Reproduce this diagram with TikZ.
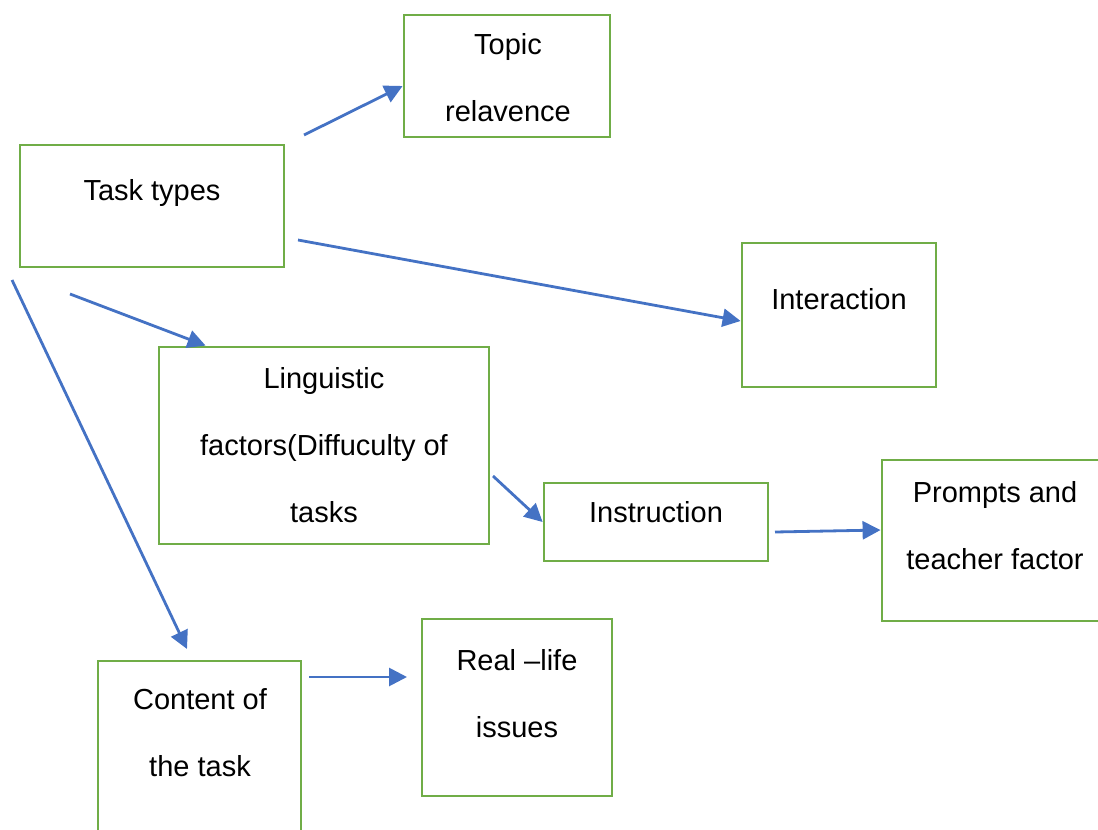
\documentclass[tikz,border=0pt]{standalone}
\usepackage{fontspec}
\setmainfont{Liberation Sans}
\usetikzlibrary{arrows.meta,positioning}
\definecolor{boxgreen}{HTML}{70AD47}
\definecolor{linkblue}{HTML}{4472C4}
\tikzset{font=\fontsize{29}{67}\selectfont}
\tikzset{box/.style={draw=boxgreen,line width=2.8pt,inner sep=0pt}}
\tikzset{lbl/.style={align=center,inner sep=0pt}}
\tikzset{link/.style={draw=linkblue,line width=2.8pt,-{Triangle[length=18pt,width=18pt]}}}

\begin{document}
\begin{tikzpicture}[x=1pt,y=-1pt]
\useasboundingbox (0,0) rectangle (1098,830);
\node[box,minimum width=206,minimum height=122] (topic) at (507,76) {};
\node[box,minimum width=264,minimum height=122] (tasks) at (152,206) {};
\node[box,minimum width=194,minimum height=144] (inter) at (839,315) {};
\node[box,minimum width=330,minimum height=197] (ling) at (324,445.5) {};
\node[box,minimum width=224,minimum height=78] (instr) at (656,522) {};
\node[box,minimum width=226,minimum height=161] (prompts) at (995,540.5) {};
\node[box,minimum width=190,minimum height=177] (real) at (517,707.5) {};
\node[box,minimum width=203,minimum height=199] (content) at (199.5,760.5) {};
\node[lbl] (topic-lbl) at (508,77.5) {Topic\\relavence};
\node[lbl] (tasks-lbl) at (152,192.5) {Task types};
\node[lbl] (inter-lbl) at (839,299.5) {Interaction};
\node[lbl] (ling-lbl) at (324,445) {Linguistic\\factors(Diffuculty of\\tasks};
\node[lbl] (instr-lbl) at (656,512.5) {Instruction};
\node[lbl] (prompts-lbl) at (995,525.5) {Prompts and\\teacher factor};
\node[lbl] (real-lbl) at (517,693.5) {Real –life\\issues};
\node[lbl] (content-lbl) at (200,733) {Content of\\the task};
\coordinate (s-topic) at (304,135);
\coordinate (s-inter) at (298,240);
\coordinate (s-ling) at (70,294);
\coordinate (s-content) at (12,280);
\coordinate (s-instr) at (493,476);
\coordinate (s-prompts) at (775,532);
\coordinate (s-real) at (309,677);
\coordinate (e-content) at (187,649);
\coordinate (e-real) at (407,677);
\draw[link] (s-topic) -- ([yshift=-10pt]topic.west);
\draw[link] (s-inter) -- ([yshift=-6pt]inter.west);
\draw[link] (s-ling) -- ([xshift=48pt]ling.north west);
\draw[link] (s-content) -- (e-content);
\draw[link] (s-instr) -- (instr.west);
\draw[link] (s-prompts) -- ([yshift=10.5pt]prompts.west);
\draw[link] (s-real) -- (e-real);
\end{tikzpicture}
\end{document}
